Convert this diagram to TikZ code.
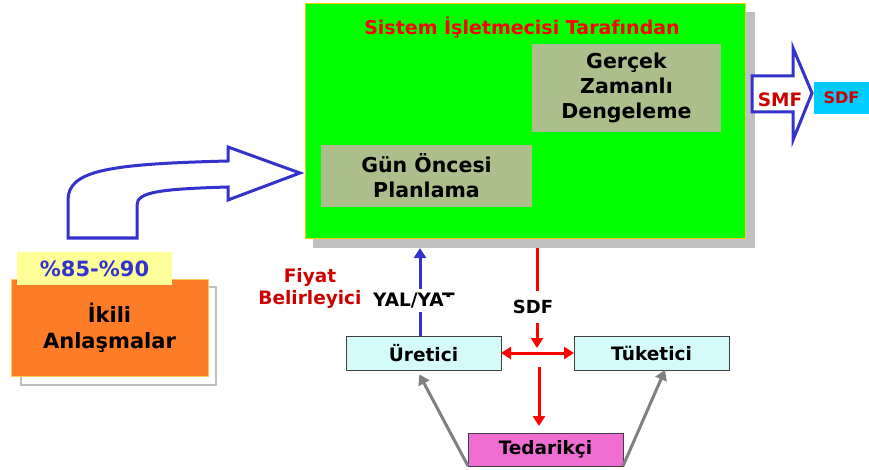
\documentclass[tikz,border=0pt]{standalone}
\usepackage{fontspec}
\setmainfont{DejaVu Sans}
\usetikzlibrary{arrows.meta}

\definecolor{panelgreen}{RGB}{0,255,0}
\definecolor{panelrim}{RGB}{255,204,0}
\definecolor{shadowgray}{RGB}{192,192,192}
\definecolor{stagefill}{RGB}{172,190,140}
\definecolor{deepblue}{RGB}{51,51,204}
\definecolor{titlered}{RGB}{255,0,0}
\definecolor{darkred}{RGB}{204,0,0}
\definecolor{bilatorange}{RGB}{252,124,40}
\definecolor{bilatrim}{RGB}{255,200,90}
\definecolor{notegray}{RGB}{190,190,190}
\definecolor{shareyellow}{RGB}{255,255,153}
\definecolor{actorcyan}{RGB}{212,250,250}
\definecolor{actorrim}{RGB}{64,64,64}
\definecolor{supplypink}{RGB}{240,110,210}
\definecolor{tagcyan}{RGB}{0,204,255}
\definecolor{linkgray}{RGB}{128,128,128}

\newcommand\txt[2]{\fontsize{#1}{#2}\selectfont\bfseries}

\tikzset{
  plain/.style={inner sep=0pt, outer sep=0pt},
  stagebox/.style={plain, fill=stagefill, align=center, text=black, font=\txt{20.5}{25}},
  actor/.style={plain, draw=actorrim, line width=0.8pt, text=black, font=\txt{18.5}{22}},
  tip/.style={-{Triangle[width=12pt,length=10pt]}},
  bluelink/.style={draw=deepblue, line width=3pt, tip},
  redlink/.style={draw=titlered, line width=3pt},
  graylink/.style={draw=linkgray, line width=3pt, tip},
  blockarrow/.style={draw=deepblue, fill=white, line width=3pt, line join=miter},
}

\begin{document}
\begin{tikzpicture}[x=1pt, y=-1pt]
\useasboundingbox (0,0) rectangle (869,470);

% system operator panel with its drop shadow
\node[plain, fill=shadowgray, minimum width=442, minimum height=236] (sh) at (534,130) {};
\node[plain, fill=panelgreen, draw=panelrim, line width=0.8pt,
      minimum width=440, minimum height=235] (so) at (525,120.5) {};
\node[plain, text=titlered, font=\txt{19}{23}] (title) at (522,28) {Sistem İşletmecisi Tarafından};

\node[stagebox, minimum width=189, minimum height=88] (rt) at (626.5,88)
  {Gerçek\\Zamanlı\\Dengeleme};
\node[stagebox, minimum width=211, minimum height=62] (da) at (426.5,176)
  {Gün Öncesi\\Planlama};

% bent block arrow from the bilateral contracts into the panel
\draw[blockarrow]
  (68,238) -- (68,200) .. controls (68,170) and (110,164) .. (228,161)
  -- (228,147) -- (300,173) -- (228,200) -- (228,187)
  .. controls (160,189) and (137,192) .. (137,205) -- (137,238) -- cycle;

% bilateral contracts
\draw[notegray, line width=2pt] (21,287) rectangle (216,385);
\node[plain, fill=bilatorange, draw=bilatrim, line width=0.8pt, align=center,
      font=\txt{21}{26}, minimum width=197, minimum height=97] (ik) at (109.5,327.5)
  {İkili\\Anlaşmalar};
\node[plain, fill=shareyellow, text=deepblue, font=\txt{21}{25},
      minimum width=155, minimum height=33] (pct) at (94.5,268.5) {\%85-\%90};

% market participants
\node[actor, fill=actorcyan, minimum width=155, minimum height=34] (ur) at (423.5,353) {Üretici};
\node[actor, fill=actorcyan, minimum width=155, minimum height=34] (tk) at (651.5,353) {Tüketici};
\node[actor, fill=supplypink, minimum width=155, minimum height=33] (td) at (545.5,449.5) {Tedarikçi};

% price-setting bids up to the panel
\coordinate (upx) at (420,300);
\draw[bluelink] (upx |- ur.north) -- (upx |- sh.south);
\node[plain, text=darkred, align=center, font=\txt{18.5}{22}] (fb) at (310,288) {Fiyat\\Belirleyici};
\begin{scope}
  \clip (362,285) -- (462,285) -- (462,296) -- (445,296) -- (445,316) -- (362,316) -- cycle;
  \node[fill=white, inner xsep=3pt, inner ysep=4pt, text=black, font=\txt{18.5}{22}] (yal) at (414,300.5) {YAL/YAT};
\end{scope}

% system marginal price down to the participants
\coordinate (jn) at (537,348);
\coordinate (dn) at (539,367);
\draw[redlink, tip] (jn |- sh.south) -- (jn);
\node[fill=white, inner xsep=2pt, inner ysep=9pt, text=black, font=\txt{18}{22}] (sdf) at (533,307) {SDF};
\draw[redlink, {Triangle[width=12pt,length=10pt]}-{Triangle[width=12pt,length=10pt]}] (ur.east) -- (tk.west);
\draw[redlink, tip, shorten >=7pt] (dn) -- (dn |- td.north);

% supplier links
\draw[graylink, shorten >=5pt] (td.south west) -- ([xshift=-6.5pt]ur.south);
\draw[graylink] (td.south east) -- ([xshift=13.5pt]tk.south);

% SMF block arrow and SDF tag
\draw[blockarrow] (752,76) -- (793,76) -- (793,48) -- (812,93) -- (793,140) -- (793,112) -- (752,112) -- cycle;
\node[plain, text=darkred, font=\txt{18.5}{22}] (smf) at (780,100) {SMF};
\node[plain, fill=tagcyan, text=darkred, font=\txt{16}{20}, minimum width=55, minimum height=32] (tag) at (841.5,98) {SDF};
\end{tikzpicture}
\end{document}
